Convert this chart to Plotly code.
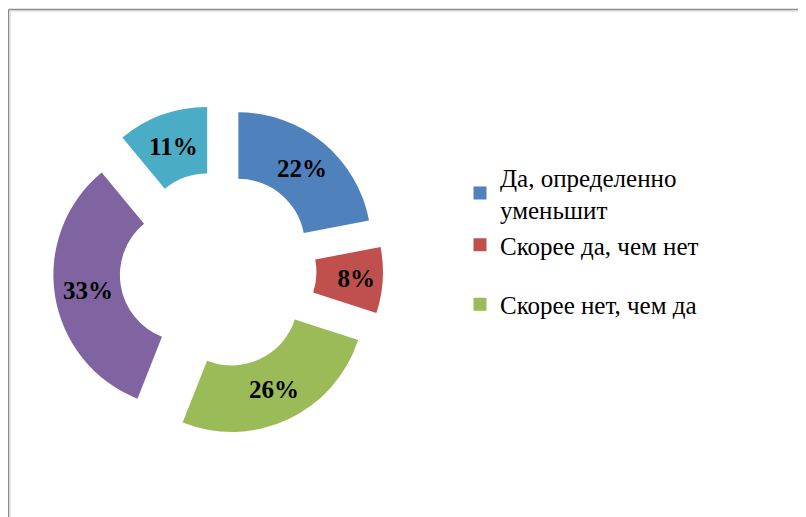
import plotly.graph_objects as go

# the page body adds an 8px margin, so the figure is drawn at (8, 8)
OFF = 8
W, H = 806 - OFF, 517 - OFF

labels = ["Да, определенно уменьшит", "Скорее да, чем нет", "Скорее нет, чем да",
          "Определенно нет", "Затрудняюсь ответить"]
values = [22, 8, 26, 33, 11]
colors = ["#4F81BD", "#C0504D", "#9BBB59", "#8064A2", "#4BACC6"]
legend_labels = ["Да, определенно<br>уменьшит", "Скорее да, чем нет", "Скорее нет, чем да"]
legend_groups = ["a", "a", "b"]

SERIF = "Times New Roman, Liberation Serif, serif"

def px_x(x):
    return (x - OFF) / W

def px_y(y):
    return 1 - (y - OFF) / H

fig = go.Figure()

fig.add_trace(go.Pie(
    labels=labels, values=values, sort=False, direction="clockwise", rotation=0,
    hole=0.5, pull=[0.24] * len(values),
    marker=dict(colors=colors, line=dict(width=0)),
    texttemplate="%{percent:.0%}", textposition="inside", insidetextorientation="horizontal",
    textfont=dict(family=SERIF, size=25, color="black", weight="bold"),
    domain=dict(x=[px_x(53), px_x(383)], y=[px_y(435), px_y(105)]),
    showlegend=False, hoverinfo="label+percent",
))

for lab, col, grp in zip(legend_labels, colors[:3], legend_groups):
    fig.add_trace(go.Scatter(
        x=[None], y=[None], mode="markers", name=lab, legendgroup=grp,
        marker=dict(symbol="square", size=13, color=col),
    ))

shapes = [
    dict(type="line", xref="paper", yref="paper", x0=px_x(8.5), x1=1.02, y0=px_y(9.5), y1=px_y(9.5),
         line=dict(color="#8a8a8a", width=1.5)),
    dict(type="line", xref="paper", yref="paper", x0=px_x(8.5), x1=px_x(8.5), y0=px_y(9.5), y1=-0.02,
         line=dict(color="#8a8a8a", width=1.5)),
    dict(type="line", xref="paper", yref="paper", x0=px_x(10), x1=1.02, y0=px_y(11), y1=px_y(11),
         line=dict(color="#d0d0d0", width=1)),
    dict(type="line", xref="paper", yref="paper", x0=px_x(10), x1=px_x(10), y0=px_y(11), y1=-0.02,
         line=dict(color="#d0d0d0", width=1)),
]

fig.update_layout(
    width=W, height=H, margin=dict(l=0, r=0, t=0, b=0),
    paper_bgcolor="white", plot_bgcolor="white",
    xaxis=dict(visible=False), yaxis=dict(visible=False),
    shapes=shapes,
    uniformtext=dict(minsize=25, mode="show"),
    legend=dict(
        x=px_x(460), y=px_y(154), xanchor="left", yanchor="top",
        font=dict(family=SERIF, size=25, color="black"),
        traceorder="grouped", tracegroupgap=24, bgcolor="rgba(0,0,0,0)",
        itemclick=False, itemdoubleclick=False,
    ),
    font=dict(family=SERIF),
)

fig.write_html("out.html")
